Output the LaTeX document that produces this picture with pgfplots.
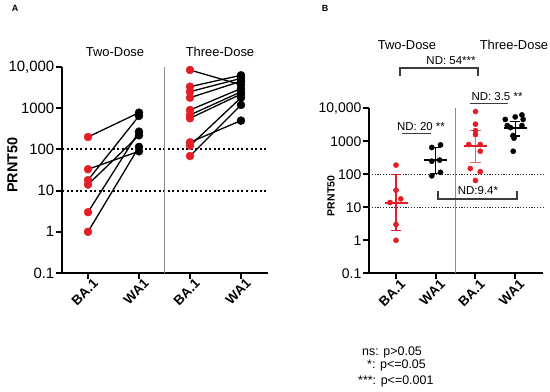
\documentclass[border=0pt]{standalone}
\usepackage{pgfplots}
\pgfplotsset{compat=1.18}
\usepackage{fontspec}
\setmainfont{Liberation Sans}
\definecolor{myred}{RGB}{228,30,38}
\definecolor{sepgray}{RGB}{140,140,140}
\definecolor{brk}{RGB}{60,60,60}
\newcommand{\fs}[1]{\fontsize{#1}{#1}\selectfont}
\begin{document}
\begin{tikzpicture}[x=1bp,y=1bp]
\path[use as bounding box] (0,0) rectangle (550,-391);
% ---------------- Panel A ----------------
\begin{axis}[
  at={(62bp,-273bp)}, anchor=south west, scale only axis,
  width=206bp, height=206bp,
  xmin=-0.51, xmax=3.53, ymode=log, ymin=0.1, ymax=10000,
  axis x line*=bottom, axis y line*=left,
  axis line style={line width=2bp, -},
  tick align=outside, major tick length=6bp,
  tick style={black, line width=2bp},
  xtick={0,1,2,3}, xticklabels={BA.1,WA1,BA.1,WA1},
  xticklabel style={rotate=45, anchor=north east, xshift=5bp, yshift=-1bp, font=\bfseries\fs{13.5}, inner sep=1bp},
  ytick={0.1,1,10,100,1000,10000}, yticklabels={0.1,1,10,100,1000,{10,000}},
  yticklabel style={font=\fs{15}, inner sep=1.5bp},
  yminorticks=false, clip=false,
]
\addplot[black, line width=2bp, dash pattern=on 2bp off 2.6bp] coordinates {(-0.51,100) (3.53,100)};
\addplot[black, line width=2bp, dash pattern=on 2bp off 2.6bp] coordinates {(-0.51,10) (3.53,10)};
\addplot[sepgray, line width=1.1bp] coordinates {(1.5,0.1) (1.5,10000)};
% two-dose pairs
\addplot[black, line width=1.3bp] coordinates {(0,200) (1,780)};
\addplot[black, line width=1.3bp] coordinates {(0,33) (1,90)};
\addplot[black, line width=1.3bp] coordinates {(0,18) (1,650)};
\addplot[black, line width=1.3bp] coordinates {(0,14) (1,220)};
\addplot[black, line width=1.3bp] coordinates {(0,3) (1,270)};
\addplot[black, line width=1.3bp] coordinates {(0,1) (1,115)};
% three-dose pairs
\addplot[black, line width=1.3bp] coordinates {(2,8450) (3,3700)};
\addplot[black, line width=1.3bp] coordinates {(2,3330) (3,6300)};
\addplot[black, line width=1.3bp] coordinates {(2,2520) (3,5300)};
\addplot[black, line width=1.3bp] coordinates {(2,1800) (3,4500)};
\addplot[black, line width=1.3bp] coordinates {(2,905) (3,3000)};
\addplot[black, line width=1.3bp] coordinates {(2,684) (3,2500)};
\addplot[black, line width=1.3bp] coordinates {(2,569) (3,2200)};
\addplot[black, line width=1.3bp] coordinates {(2,149) (3,500)};
\addplot[black, line width=1.3bp] coordinates {(2,123) (3,1800)};
\addplot[black, line width=1.3bp] coordinates {(2,69) (3,1200)};
% markers
\addplot[only marks, mark=*, mark size=4bp, color=myred] coordinates {
(0,200)(0,33)(0,18)(0,14)(0,3)(0,1)
(2,8450)(2,3330)(2,2520)(2,1800)(2,905)(2,684)(2,569)(2,149)(2,123)(2,69)};
\addplot[only marks, mark=*, mark size=4bp, color=black] coordinates {
(1,780)(1,650)(1,270)(1,220)(1,115)(1,90)
(3,6300)(3,5300)(3,4500)(3,3700)(3,3000)(3,2500)(3,2200)(3,1800)(3,1200)(3,500)};
\end{axis}
\node[font=\bfseries\fs{9}] at (15,-8) {A};
\node[font=\fs{13}] at (115,-52) {Two-Dose};
\node[font=\fs{13}] at (220,-52) {Three-Dose};
\node[font=\bfseries\fs{14.5}, rotate=90] at (12.5,-165) {PRNT50};
% ---------------- Panel B ----------------
\begin{axis}[
  at={(369bp,-273.3bp)}, anchor=south west, scale only axis,
  width=174bp, height=165bp,
  xmin=-0.68, xmax=3.70, ymode=log, ymin=0.1, ymax=10000,
  axis x line*=bottom, axis y line*=left,
  axis line style={line width=2bp, -},
  tick align=outside, major tick length=6bp,
  tick style={black, line width=2bp},
  xtick={0,1,2,3}, xticklabels={BA.1,WA1,BA.1,WA1},
  xticklabel style={rotate=45, anchor=north east, xshift=4bp, yshift=-1bp, font=\bfseries\fs{13.5}, inner sep=1bp},
  ytick={0.1,1,10,100,1000,10000}, yticklabels={0.1,1,10,100,1000,{10,000}},
  yticklabel style={font=\fs{14}, inner sep=1.5bp},
  yminorticks=false, clip=false,
]
\addplot[black!85, line width=1bp, dash pattern=on 1.2bp off 1.6bp] coordinates {(-0.68,100) (3.70,100)};
\addplot[black!85, line width=1bp, dash pattern=on 1.2bp off 1.6bp] coordinates {(-0.68,10) (3.70,10)};
\addplot[sepgray, line width=1.1bp] coordinates {(1.5,0.1) (1.5,10000)};
% error bars and medians: BA.1 two-dose
\addplot[myred, line width=1.2bp] coordinates {(0,1.95) (0,96)};
\addplot[myred, line width=1.2bp] coordinates {(-0.13,96) (0.13,96)};
\addplot[myred, line width=1.2bp] coordinates {(-0.13,1.95) (0.13,1.95)};
\addplot[myred, line width=2bp] coordinates {(-0.29,13.5) (0.29,13.5)};
% WA1 two-dose
\addplot[black, line width=1.2bp] coordinates {(1,105) (1,660)};
\addplot[black, line width=1.2bp] coordinates {(0.87,660) (1.13,660)};
\addplot[black, line width=1.2bp] coordinates {(0.87,105) (1.13,105)};
\addplot[black, line width=2bp] coordinates {(0.71,265) (1.29,265)};
% BA.1 three-dose
\addplot[myred!70, line width=1.2bp] coordinates {(2,230) (2,2100)};
\addplot[myred!70, line width=1.2bp] coordinates {(1.87,2100) (2.13,2100)};
\addplot[myred!70, line width=1.2bp] coordinates {(1.87,230) (2.13,230)};
\addplot[myred, line width=2bp] coordinates {(1.71,730) (2.29,730)};
% WA1 three-dose
\addplot[black, line width=1.2bp] coordinates {(3,1450) (3,3900)};
\addplot[black, line width=1.2bp] coordinates {(2.87,3900) (3.13,3900)};
\addplot[black, line width=1.2bp] coordinates {(2.87,1450) (3.13,1450)};
\addplot[black, line width=2bp] coordinates {(2.71,2450) (3.29,2450)};
% points
\addplot[only marks, mark=*, mark size=2.6bp, color=myred] coordinates {
(0,190)(0,33)(-0.15,14)(0.12,18)(0,3)(0,1)
(2,8000)(2,3300)(2,2100)(2,1600)(1.83,800)(2.12,800)(2.12,500)(1.87,150)(2.12,120)(2,65)};
\addplot[only marks, mark=*, mark size=2.6bp, color=black] coordinates {
(0.9,650)(1.12,780)(0.9,250)(1.1,270)(0.9,90)(1.12,115)
(2.75,4600)(3,5500)(3.17,6300)(3.2,4600)(2.8,3000)(2.88,2600)(3.17,3000)(2.95,1500)(2.97,1250)(2.95,500)};
\end{axis}
\node[font=\bfseries\fs{9}] at (325,-8) {B};
\node[font=\fs{13}] at (407,-45) {Two-Dose};
\node[font=\fs{13}] at (514,-45) {Three-Dose};
\node[font=\bfseries\fs{10.5}, rotate=90] at (331,-196) {PRNT50};
% brackets and annotations
\draw[brk, line width=1.1bp] (400,-76) -- (400,-68) -- (478,-68) -- (478,-76);
\node[font=\fs{11.5}, inner sep=0pt] at (451,-61) {ND: 54***};
\draw[brk, line width=1.1bp] (438,-191) -- (438,-199) -- (517,-199) -- (517,-191);
\node[font=\fs{11.5}, inner sep=0pt] at (478,-191) {ND:9.4*};
\node[font=\fs{11.5}, inner sep=0pt] at (421,-127) {ND: 20 **};
\draw[brk, line width=0.9bp] (402,-133.5) -- (431,-133.5);
\node[font=\fs{11.5}, inner sep=0pt] at (497,-97) {ND: 3.5 **};
\draw[brk, line width=0.9bp] (470,-103) -- (508,-103);
% significance legend
\node[font=\fs{12.5}, inner sep=0pt, anchor=west] at (362,-352) {ns: p>0.05};
\node[font=\fs{12.5}, inner sep=0pt, anchor=west] at (367,-365) {*: p<=0.05};
\node[font=\fs{12.5}, inner sep=0pt, anchor=west] at (358,-381) {***: p<=0.001};
\end{tikzpicture}
\end{document}
